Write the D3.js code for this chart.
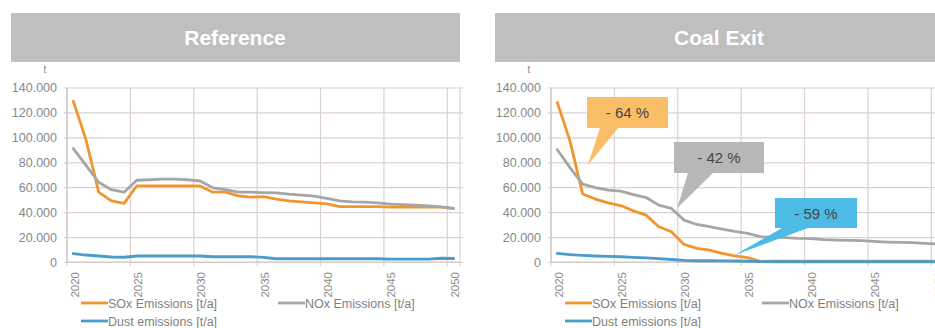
<!DOCTYPE html>
<html>
<head>
<meta charset="utf-8">
<script src="https://cdn.jsdelivr.net/npm/d3@7"></script>
<style>
  html, body { margin: 0; padding: 0; background: #fff; overflow: hidden; }
  svg { display: block; font-family: "Liberation Sans", Arial, sans-serif; }
</style>
</head>
<body>
<svg id="chart" width="935" height="328"></svg>
<script>
// ---- data ---------------------------------------------------------------
const years = d3.range(2020, 2051);
const yTicks = [0, 20000, 40000, 60000, 80000, 100000, 120000, 140000];
const xTickYears = [2020, 2025, 2030, 2035, 2040, 2045, 2050];
const panelTitles = ["Reference", "Coal Exit"];
const seriesNames = ["SOx Emissions [t/a]", "NOx Emissions [t/a]", "Dust emissions [t/a]"];

const refSOx = [129000, 98000, 56000, 49000, 47000, 61000, 61000, 61000, 61000, 61000,
  61000, 56000, 56000, 53000, 52000, 52500, 50500, 49000, 48300, 47500,
  46700, 44500, 44500, 44500, 44500, 44000, 44000, 44000, 44000, 44000, 43000];
const refNOx = [91000, 77500, 64000, 58000, 56000, 65600, 66000, 66500, 66500, 66000,
  65000, 59500, 58000, 56000, 56000, 55700, 55500, 54400, 53600, 52800,
  51000, 49000, 48300, 48000, 47500, 46500, 46000, 45700, 45100, 44300, 43000];
const refDust = [6800, 5600, 4800, 4000, 3800, 4800, 4800, 4800, 4800, 4800,
  4800, 4200, 4200, 4200, 4200, 3700, 2600, 2600, 2600, 2600,
  2600, 2600, 2600, 2600, 2600, 2300, 2300, 2300, 2300, 3000, 2800];

const exitSOx = [128000, 97000, 54500, 50500, 47500, 45300, 41000, 37600, 28300, 24300,
  14100, 11000, 9600, 7000, 5000, 3500, 500, 600, 600, 600,
  600, 600, 600, 600, 600, 600, 600, 600, 600, 600, 600];
const exitNOx = [90100, 75700, 62400, 59700, 57600, 56800, 54100, 51700, 45600, 43000,
  33600, 30100, 28300, 26400, 24500, 22900, 20300, 19700, 19500, 18900,
  18700, 17900, 17600, 17300, 17100, 16500, 16000, 15700, 15500, 14900, 14500];
const exitDust = [6900, 6000, 5300, 4800, 4500, 4200, 3700, 3300, 2700, 2000,
  1300, 1000, 1000, 900, 800, 600, 300, 200, 200, 200,
  200, 200, 200, 200, 200, 200, 200, 200, 200, 200, 200];

// reduction callouts on the coal exit panel: label, anchor year, anchor value
const calloutLabels = ["- 64 %", "- 42 %", "- 59 %"];
const calloutYears = [2022.4, 2029.45, 2034.0];
const calloutValues = [77600, 43200, 5600];

// ---- layout -------------------------------------------------------------
const svg = d3.select("#chart");
const colors = ["#F0962E", "#A6A6A6", "#4A9CCB"];
const calloutFills = ["#FBBE68", "#B7B7B7", "#4DBBE6"];
const gridColor = "#DCD2CF";
const plotW = 393, plotTop = 87.5, plotBottom = 262;

const x = d3.scaleLinear().domain([2019.5, 2050.5]).range([0, plotW]);
const y = d3.scaleLinear().domain([0, 140000]).range([plotBottom, plotTop]);
const fmt = v => d3.format(",")(v).replace(/,/g, ".");

function drawPanel(offsetX, title, series, callouts) {
  const g = svg.append("g").attr("transform", `translate(${offsetX},0)`);

  // title bar
  g.append("rect").attr("x", -56).attr("y", 13).attr("width", 449).attr("height", 49)
    .attr("fill", "#BFBFBF");
  g.append("text").attr("x", 168).attr("y", 44.5).attr("text-anchor", "middle")
    .attr("fill", "#fff").attr("font-size", 21).attr("font-weight", "bold").text(title);

  // unit label
  g.append("text").attr("x", -22).attr("y", 73).attr("text-anchor", "middle")
    .attr("fill", "#8a8a8a").attr("font-size", 10).text("t");

  // horizontal gridlines + y labels
  const yAxis = d3.axisLeft(y).tickValues(yTicks).tickSize(-plotW - 3).tickFormat(fmt).tickPadding(10);
  const ya = g.append("g").call(yAxis);
  ya.select(".domain").remove();
  ya.selectAll(".tick line").attr("stroke", gridColor).attr("stroke-width", 1.2).attr("x1", -3);
  ya.selectAll(".tick text").attr("fill", "#888").attr("font-size", 12.5)
    .attr("font-family", "Liberation Sans, Arial, sans-serif");

  // vertical gridlines at category boundaries
  const grid = xTickYears.map(v => v - 0.5).concat([2050.5]);
  g.append("g").selectAll("line").data(grid).join("line")
    .attr("x1", d => x(d)).attr("x2", d => x(d))
    .attr("y1", plotTop).attr("y2", plotBottom + 4)
    .attr("stroke", gridColor).attr("stroke-width", 1.2);

  // axis lines
  g.append("line").attr("x1", 0).attr("x2", plotW).attr("y1", plotBottom).attr("y2", plotBottom)
    .attr("stroke", "#CFC6C3").attr("stroke-width", 1.2);
  g.append("line").attr("x1", 0).attr("x2", 0).attr("y1", plotTop).attr("y2", plotBottom)
    .attr("stroke", "#CFC6C3").attr("stroke-width", 1.2);

  // x labels (rotated)
  g.append("g").selectAll("text").data(xTickYears).join("text")
    .attr("transform", d => `translate(${x(d)},${plotBottom + 10}) rotate(-90)`)
    .attr("text-anchor", "end").attr("dy", "0.45em")
    .attr("fill", "#8a8a8a").attr("font-size", 11.5).text(d => d);

  // series lines
  const line = d3.line().x((d, i) => x(years[i])).y(d => y(d));
  series.forEach((s, k) => {
    g.append("path").datum(s).attr("d", line).attr("fill", "none")
      .attr("stroke", colors[k]).attr("stroke-width", 2.8)
      .attr("stroke-linejoin", "round").attr("stroke-linecap", "round");
  });

  // callouts
  if (callouts) callouts.forEach(c => {
    const tx = x(c.year), ty = y(c.value);
    const cg = g.append("g");
    cg.append("path")
      .attr("d", `M${c.bx},${c.by} H${c.bx + c.bw} V${c.by + c.bh} H${c.p2} L${tx},${ty} L${c.p1},${c.by + c.bh} H${c.bx} Z`)
      .attr("fill", c.fill);
    cg.append("text").attr("x", c.bx + c.bw / 2).attr("y", c.by + c.bh / 2 + 5.5)
      .attr("text-anchor", "middle").attr("fill", "#454545").attr("font-size", 15).text(c.label);
  });

  // legend
  const leg = [[14, 303], [211, 303], [14, 321]];
  seriesNames.forEach((n, k) => {
    const [lx, ly] = leg[k];
    g.append("line").attr("x1", lx).attr("x2", lx + 27).attr("y1", ly).attr("y2", ly)
      .attr("stroke", colors[k]).attr("stroke-width", 2.8);
    g.append("text").attr("x", lx + 27).attr("y", ly + 4.5).attr("fill", "#7f7f7f")
      .attr("font-size", 12.5).text(n);
  });
}

drawPanel(67, panelTitles[0], [refSOx, refNOx, refDust], null);

const boxes = [
  { bx: 36, by: 97, bw: 81, bh: 31, p1: 49, p2: 67 },
  { bx: 123, by: 142, bw: 90, bh: 31, p1: 137, p2: 162 },
  { bx: 224, by: 198, bw: 82, bh: 30, p1: 231, p2: 257 }
];
drawPanel(551, panelTitles[1], [exitSOx, exitNOx, exitDust],
  boxes.map((b, i) => Object.assign({}, b, {
    label: calloutLabels[i], year: calloutYears[i], value: calloutValues[i], fill: calloutFills[i]
  })));
</script>
</body>
</html>
